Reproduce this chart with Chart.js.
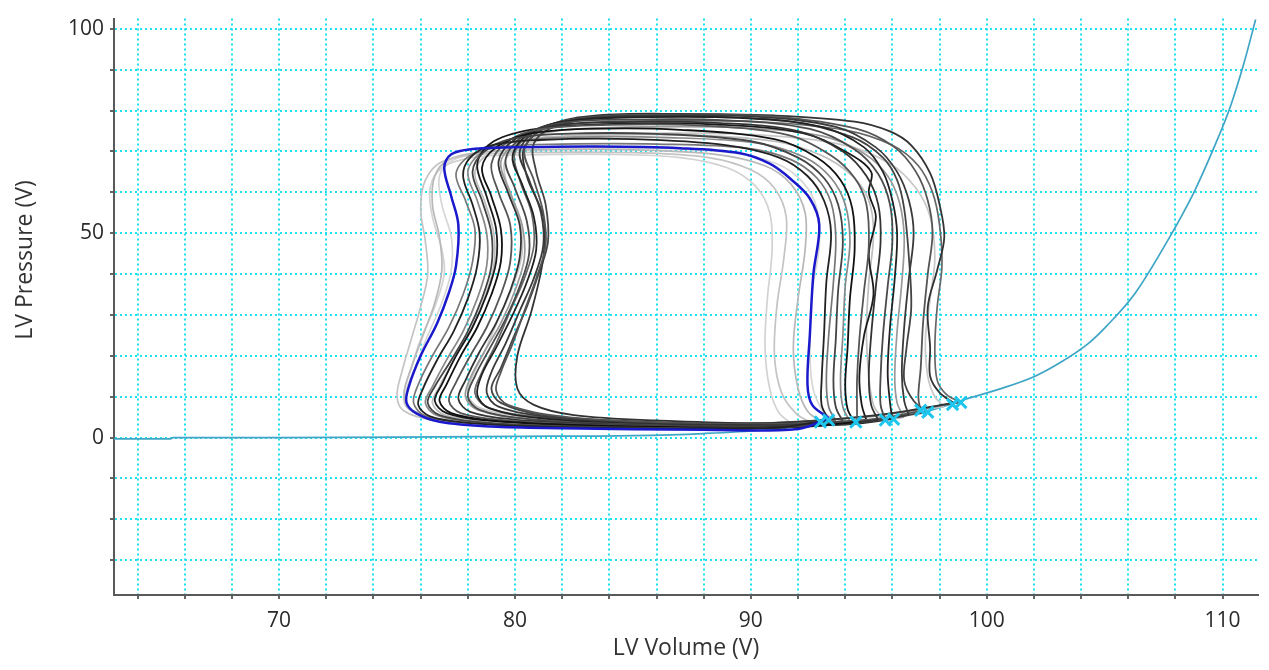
<!DOCTYPE html>
<html>
<head>
<meta charset="utf-8">
<script src="https://cdn.jsdelivr.net/npm/chart.js@4/dist/chart.umd.min.js"></script>
<style>
  html, body { margin: 0; padding: 0; background: #fff; }
  #pv { display: block; }
</style>
</head>
<body>
<canvas id="pv" width="1269" height="670"></canvas>
<script>
// axis ticks (grid every 2 on volume, every 10 on pressure)
var xTicks = [64,66,68,70,72,74,76,78,80,82,84,86,88,90,92,94,96,98,100,102,104,106,108,110];
var xLabels = [70, 80, 90, 100, 110];
var yTicks = [-30,-20,-10,0,10,20,30,40,50,60,70,80,90,100];
var yLabels = [0, 50, 100];

// end-diastolic pressure-volume relation (teal curve)
var edpvrVolume   = [63, 65.4, 65.5, 70, 75, 80, 85, 88, 90.5, 93, 94.5, 96, 97.5, 99, 100.5, 102, 103.1, 104.3, 105.1, 106.3, 107.7, 108.8, 109.6, 110.3, 110.9, 111.4];
var edpvrPressure = [-0.3, -0.3, 0, 0, 0.1, 0.3, 0.5, 1.0, 1.8, 3.4, 4.0, 5.0, 6.5, 9.2, 11.8, 14.9, 18.3, 23.0, 27.4, 35.4, 48.5, 60.2, 70.5, 80.5, 91.5, 102.3];

// end-diastolic points (cyan crosses)
var markerVolume   = [92.95, 93.3, 94.45, 95.7, 96.05, 97.2, 97.5, 98.55, 98.9];
var markerPressure = [3.8, 4.3, 3.8, 4.3, 4.5, 6.7, 6.2, 8.1, 8.6];

// highlighted loop (blue)
var loopB = [[93.3,4.8],[92.6,8],[92.4,13],[92.5,25],[92.65,40],[92.9,52],[92.5,58.5],[91.7,63.2],[90.8,67],[89.5,69.6],[87,70.8],[83.5,71.2],[80,71],[78.2,70.6],[77.3,69.3],[77.0,66],[77.3,59],[77.6,52],[77.5,42],[77.2,35.5],[76.7,28],[76.0,20],[75.5,12.5],[75.4,8.6],[75.8,6],[76.8,3.9],[79,2.7],[82,2.3],[88,1.9],[92,2.1],[93.3,4.8]];

// dark loops
var loopD1 = [[93.3,4.3],[93.0,8],[93.0,14],[93.1,25],[93.2,38],[93.4,50],[93.1,58],[92.4,64],[91.2,68.5],[89,71.5],[85,73],[81,72.8],[79,71.5],[78.1,68.5],[77.8,64],[78.2,57],[78.5,50],[78.4,42],[78.0,34],[77.4,26],[76.7,19],[76.1,12],[75.9,8],[76.4,5.2],[78,3.6],[81,2.7],[86,2.2],[91,2.4],[93.3,4.3]];
var loopD2 = [[93.9,4.0],[93.6,7.5],[93.5,14],[93.6,24],[93.7,36],[93.9,48],[93.7,57],[93.1,63.5],[92,68.5],[90,72.5],[86,74.3],[82,74.3],[79.8,73],[78.7,70],[78.2,65],[78.6,58],[79.0,50],[79.0,42],[78.6,34],[78.0,26],[77.3,19],[76.6,12.5],[76.3,8.5],[76.8,5.5],[78.5,3.8],[82,2.8],[87,2.3],[91.5,2.5],[93.9,4.0]];
var loopD3 = [[94.4,3.8],[94.1,7],[94.0,13],[94.1,22],[94.2,34],[94.4,46],[94.3,56],[93.8,63],[92.8,68.5],[91,73],[87,75.3],[83,75.5],[80.5,74.2],[79.2,71],[78.6,66],[79.0,59],[79.4,51],[79.4,43],[79.0,35],[78.4,27],[77.7,20],[77.1,13],[76.8,9],[77.3,6],[79,4.2],[82.5,3.1],[87.5,2.5],[92,2.6],[94.4,3.8]];
var loopD4 = [[94.5,4.2],[94.5,7.5],[94.5,14],[94.6,24],[94.8,36],[95.0,47],[94.9,57],[94.4,63.5],[93.4,69],[91.6,74],[88,76.3],[84,76.5],[81,75.4],[79.7,72.5],[79.0,67],[79.3,60],[79.8,52],[79.8,43],[79.4,35],[78.8,27],[78.1,20],[77.5,13.5],[77.2,9],[77.7,6],[79.5,4.3],[83,3.2],[88,2.6],[92.5,2.8],[94.5,4.2]];
var loopD5 = [[95.4,4.3],[95.1,8],[95.0,15],[95.1,25],[95.3,37],[95.5,48],[95.4,57],[94.9,64],[93.9,70],[92,75],[88.5,77],[84.5,77.2],[81.5,76.2],[80.0,73],[79.3,67.5],[79.7,60],[80.2,52],[80.2,44],[79.8,36],[79.2,28],[78.5,21],[77.9,14],[77.6,9.5],[78.1,6.3],[80,4.4],[83.5,3.3],[88.5,2.7],[93,3.0],[95.4,4.3]];
var loopD6 = [[95.7,4.4],[95.5,8],[95.5,15],[95.6,25],[95.8,37],[96.0,48],[95.9,57],[95.4,64.5],[94.4,70.5],[92.5,75.5],[89,77.6],[85,77.8],[82,77],[80.4,74],[79.6,68],[80.0,61],[80.5,53],[80.6,45],[80.2,37],[79.6,29],[78.9,21.5],[78.3,15],[78.0,10],[78.5,6.8],[80.5,4.6],[84,3.4],[89,2.8],[93.5,3.1],[95.7,4.4]];
var loopD7 = [[96.0,4.5],[95.9,8.5],[95.8,16],[95.9,27],[96.1,39],[96.2,50],[96.0,58],[95.6,65],[94.8,71],[93,76],[89.5,78.2],[85.5,78.4],[82.5,77.6],[80.7,74.8],[79.9,69],[80.3,62],[80.8,54],[80.9,46],[80.5,38],[79.9,30],[79.2,22],[78.6,15.5],[78.4,10.5],[78.9,7.2],[81,4.8],[84.5,3.5],[89.5,2.9],[94,3.2],[96.0,4.5]];
var loopD8 = [[96.7,5.5],[96.5,9],[96.4,16],[96.5,27],[96.7,39],[96.9,50],[96.7,58],[96.2,65],[95.3,71],[93.6,76],[90,78.6],[86,78.8],[83,78.1],[81,75.5],[80.2,70],[80.6,63],[81.1,55],[81.2,47],[80.8,39],[80.2,31],[79.6,23],[79.0,16],[78.8,11],[79.3,7.6],[81.5,5.0],[85,3.6],[90,3.1],[94.5,3.7],[96.7,5.5]];
var loopD9 = [[97.2,6.5],[97.1,10],[97.2,17],[97.3,28],[97.5,40],[97.7,50],[97.5,58],[97.0,65],[96.1,71],[94.5,75.5],[91,78.5],[87,79],[83.5,78.5],[81.3,76],[80.4,70.5],[80.8,63],[81.2,55],[81.3,47],[80.9,39],[80.4,31],[79.9,23],[79.4,16],[79.2,11.5],[79.7,8],[82,5.2],[85.5,3.8],[90.5,3.3],[95,4.4],[97.2,6.5]];
var loopD10 = [[98.6,8.5],[98.0,11],[97.6,15],[97.6,22],[97.5,32],[97.9,41],[98.2,49],[98.0,57],[97.6,64.7],[96.8,71.5],[95.9,74.9],[94.4,77.3],[91,78.8],[87,79.2],[83.5,78.8],[81.5,76.5],[80.4,71],[80.5,64],[81.2,54],[81.2,44],[80.7,31],[80.1,20],[80.1,12],[80.8,8],[82.5,5.5],[86,4.2],[91,3.6],[95.5,5.6],[98.6,8.5]];
var loopD11 = [[94.9,4.2],[94.7,8],[94.6,15],[94.8,25],[95.2,35],[95.0,45],[95.3,54],[95.0,60],[95.1,65],[94.0,70],[92.2,74.5],[88.5,76.6],[84.5,76.8],[81,75.6],[79.1,72.5],[78.4,67],[78.8,59],[79.2,51],[79.2,43],[78.8,35],[78.2,27],[77.5,20],[76.9,13],[76.6,9],[77.1,6],[78.8,4.2],[82.5,3.0],[87.5,2.5],[92.5,2.8],[94.9,4.2]];
var loopD12 = [[97.5,6.2],[96.9,9],[96.5,14],[96.6,22],[96.8,32],[96.7,44],[96.5,56],[96.2,63],[95.6,68.5],[94.3,73.5],[91.5,77.5],[87.5,78.6],[84,78.3],[81.8,76.3],[80.8,72],[80.9,65],[81.3,57],[81.4,48],[81.0,40],[80.5,32],[79.9,24],[79.4,17],[79.0,12],[79.4,8.5],[81.2,5.5],[85,4.0],[90,3.3],[94.8,4.2],[97.5,6.2]];

// medium grey loops
var loopM1 = [[94.2,4.0],[93.9,7.5],[93.8,14],[93.9,25],[94.0,37],[94.2,48],[94.0,57],[93.4,63.5],[92.3,68.5],[90.3,72],[86.5,73.4],[82.5,73.5],[80,72.5],[78.6,69.8],[78.0,65],[78.4,58],[78.8,50],[78.8,42],[78.4,34],[77.8,26],[77.1,19],[76.5,12.5],[76.2,8.5],[76.7,5.4],[78.4,3.8],[82,2.8],[87,2.3],[91.8,2.6],[94.2,4.0]];
var loopM2 = [[96.5,5.0],[96.2,8.5],[96.1,15],[96.2,26],[96.4,38],[96.5,49],[96.3,57.5],[95.8,64],[94.8,69.5],[93,73.8],[89.5,75.8],[85.5,76],[82,75.2],[80.2,72.5],[79.4,67.5],[79.8,60],[80.3,52],[80.4,44],[80.0,36],[79.4,28],[78.7,21],[78.1,14.5],[77.9,10],[78.4,6.8],[80.3,4.7],[84,3.5],[89,2.9],[94,3.4],[96.5,5.0]];
var loopM3 = [[93.6,4.2],[93.3,7.5],[93.2,14],[93.3,25],[93.5,38],[93.6,49],[93.4,57.5],[92.8,63.5],[91.7,68],[89.8,70.8],[86,71.8],[82,71.8],[79.5,71.2],[78.1,69],[77.5,64.5],[77.9,58],[78.3,51],[78.2,43],[77.8,35],[77.2,27],[76.5,20],[75.9,13],[75.7,8.5],[76.2,5.3],[77.8,3.7],[81,2.8],[86.5,2.3],[91.5,2.5],[93.6,4.2]];
var loopM4 = [[98.9,8.6],[98.3,10.5],[97.9,14],[97.8,22],[97.9,32],[98.1,42],[98.0,52],[97.7,60],[97.1,66.5],[96.0,71.5],[94,75.2],[90.5,77.2],[86.5,77.5],[83,77],[80.9,74.8],[80.0,70],[80.2,63],[80.7,55],[80.8,47],[80.4,39],[79.8,31],[79.2,23],[78.6,16],[78.3,11],[78.8,7.5],[80.8,5.2],[84.5,4],[89.5,3.4],[95,5.2],[98.9,8.6]];

// light grey loops
var loopL1 = [[92.6,3.5],[91.9,6],[91.3,11],[91.0,20],[91.1,32],[91.4,44],[91.5,54],[91.0,61],[90.0,65.5],[88.2,68.5],[85,69.7],[81,69.8],[78.5,69.3],[76.9,67.5],[76.2,63],[76.0,56],[76.2,48],[76.3,40],[76.0,32],[75.6,24],[75.2,16],[75.0,10],[75.3,6.5],[76.5,4.3],[79,3.2],[83,2.6],[88,2.2],[91.5,2.6],[92.6,3.5]];
var loopL2 = [[93.0,3.8],[92.4,6.5],[92.0,12],[91.8,22],[92.0,34],[92.3,46],[92.3,55],[91.7,62],[90.6,66.5],[88.5,69.3],[85,70.4],[81,70.4],[78.6,69.8],[77.2,68],[76.6,64],[76.5,57],[76.8,49],[76.9,41],[76.6,33],[76.1,25],[75.6,17],[75.3,11],[75.5,7],[76.8,4.5],[79.5,3.3],[83.5,2.6],[88.5,2.3],[92,2.8],[93.0,3.8]];
var loopL3 = [[91.8,3.2],[91.2,6],[90.8,12],[90.6,22],[90.7,34],[90.9,46],[90.8,55],[90.2,61.5],[89.0,66],[87,68.5],[84,69.3],[80.5,69.2],[78.2,68.5],[76.9,66],[76.4,61],[76.5,54],[76.9,46],[77.0,40],[76.6,32],[76.0,24],[75.6,17],[75.3,11],[75.4,7.5],[76.3,5],[78.5,3.5],[82.5,2.7],[87.5,2.3],[90.5,2.5],[91.8,3.2]];
var loopL4 = [[95.6,4.5],[95.2,8],[95.0,15],[94.9,26],[95.0,38],[95.2,50],[95.0,58],[94.3,64],[93,69],[91,72.5],[87.5,74],[83.5,74],[80.5,73],[79.0,70],[78.3,65],[78.7,58],[79.1,50],[79.1,42],[78.7,34],[78.1,26],[77.4,19],[76.8,12.5],[76.5,8.5],[77,5.6],[78.8,4.0],[82.5,3.0],[87.5,2.5],[93,3.2],[95.6,4.5]];
var loopL5 = [[98.2,7.6],[97.8,10],[97.5,15],[97.4,24],[97.6,34],[97.8,44],[97.6,54],[97.0,61],[95.9,67],[94.0,71.5],[90.5,74],[86.5,74.5],[83,74],[80.6,72],[79.6,68],[79.7,61],[80.2,53],[80.3,45],[79.9,37],[79.3,29],[78.7,21],[78.2,15],[78.0,10.5],[78.5,7.3],[80.5,5],[84,3.8],[89,3.2],[94.5,4.8],[98.2,7.6]];
var loopL6 = [[93.6,4.0],[93.0,7],[92.6,13],[92.5,24],[92.6,36],[92.9,47],[92.8,56],[92.2,62.5],[91.1,67],[89,69.8],[85.5,70.8],[81.5,70.7],[79,70],[77.4,68],[76.8,64],[76.9,57],[77.3,49],[77.3,41],[76.9,33],[76.3,25],[75.8,17.5],[75.4,11.5],[75.5,7.5],[76.6,4.8],[79.2,3.4],[83.5,2.7],[88.5,2.4],[92.2,3.0],[93.6,4.0]];

var darkLoops  = [loopD1, loopD2, loopD3, loopD4, loopD5, loopD6, loopD7, loopD8, loopD9, loopD10, loopD11, loopD12];
var darkColors = ['#222', '#444', '#111', '#555', '#333', '#4a4a4a', '#222', '#3a3a3a', '#555', '#333', '#1a1a1a', '#444'];
var midLoops  = [loopM1, loopM2, loopM3, loopM4];
var midColors = ['#888', '#999', '#777', '#666'];
var lightLoops  = [loopL1, loopL2, loopL3, loopL4, loopL5, loopL6];
var lightColors = ['#c4c4c4', '#b8b8b8', '#d2d2d2', '#bdbdbd', '#c8c8c8', '#d6d6d6'];

function toPoints(loop) {
    return loop.map(function (p) { return {x: p[0], y: p[1]}; });
}

function loopSet(loop, color, width, order) {
    return {
        data: toPoints(loop),
        showLine: true,
        borderColor: color,
        borderWidth: width,
        pointRadius: 0,
        tension: 0.35,
        order: order
    };
}

var datasets = [];
datasets.push({
    data: markerVolume.map(function (v, i) { return {x: v, y: markerPressure[i]}; }),
    showLine: false,
    pointStyle: 'crossRot',
    pointRadius: 8,
    pointBorderWidth: 3,
    borderColor: '#1ec6ee',
    backgroundColor: '#1ec6ee',
    order: 0
});
datasets.push(loopSet(loopB, '#1a1acc', 2.5, 1));
darkLoops.forEach(function (loop, i) {
    datasets.push(loopSet(loop, darkColors[i], 1.8, 2));
});
midLoops.forEach(function (loop, i) {
    datasets.push(loopSet(loop, midColors[i], 1.7, 3));
});
lightLoops.forEach(function (loop, i) {
    datasets.push(loopSet(loop, lightColors[i], 1.7, 4));
});
datasets.push({
    data: edpvrVolume.map(function (v, i) { return {x: v, y: edpvrPressure[i]}; }),
    showLine: true,
    borderColor: '#3fa5c6',
    borderWidth: 1.7,
    pointRadius: 0,
    cubicInterpolationMode: 'monotone',
    order: 5
});

var fontFamily = "'Open Sans', 'Noto Sans', sans-serif";
var tickFont = {family: fontFamily, size: 21};
var titleFont = {family: fontFamily, size: 23};
var gridCyan = '#1fe0ee';

// y title sits above the axis middle in the original
var yTitlePlugin = {
    id: 'yTitle',
    afterDraw: function (chart) {
        var c = chart.ctx;
        c.save();
        c.translate(25, 260);
        c.rotate(-Math.PI / 2);
        c.font = "23px " + fontFamily;
        c.fillStyle = '#333';
        c.textAlign = 'center';
        c.textBaseline = 'middle';
        c.fillText('LV Pressure (V)', 0, 0);
        c.restore();
    }
};

var ctx = document.getElementById("pv").getContext('2d');
var chart = new Chart(ctx, {
    type: 'scatter',
    data: {datasets: datasets},
    plugins: [yTitlePlugin],
    options: {
        responsive: false,
        animation: false,
        layout: {padding: {top: 10, right: 11, left: 0, bottom: 0}},
        plugins: {legend: {display: false}, tooltip: {enabled: false}},
        scales: {
            x: {
                type: 'linear',
                min: 63,
                max: 111.5,
                afterBuildTicks: function (scale) {
                    scale.ticks = xTicks.map(function (v) { return {value: v}; });
                },
                afterFit: function (scale) { scale.height = 75; },
                ticks: {
                    autoSkip: false,
                    maxRotation: 0,
                    padding: 9,
                    color: '#2a2a2a',
                    font: tickFont,
                    callback: function (v) { return xLabels.indexOf(v) >= 0 ? String(v) : ''; }
                },
                grid: {
                    color: gridCyan,
                    lineWidth: 2,
                    tickLength: 4,
                    tickColor: '#333',
                    tickWidth: 1.5
                },
                border: {display: true, color: '#5a5a5a', width: 2, dash: [2, 3]},
                title: {
                    display: true,
                    text: 'LV Volume (V)',
                    color: '#333',
                    font: titleFont,
                    padding: {top: 0, bottom: 8}
                }
            },
            y: {
                type: 'linear',
                min: -38.5,
                max: 102.5,
                afterBuildTicks: function (scale) {
                    scale.ticks = yTicks.map(function (v) { return {value: v}; });
                },
                afterFit: function (scale) { scale.width = 114; },
                ticks: {
                    autoSkip: false,
                    padding: 6,
                    color: '#2a2a2a',
                    font: tickFont,
                    callback: function (v) { return yLabels.indexOf(v) >= 0 ? String(v) : ''; }
                },
                grid: {
                    color: gridCyan,
                    lineWidth: 2,
                    tickLength: 4,
                    tickColor: '#333',
                    tickWidth: 1.5
                },
                border: {display: true, color: '#5a5a5a', width: 2, dash: [2, 3]},
                title: {display: false}
            }
        }
    }
});
</script>
</body>
</html>
